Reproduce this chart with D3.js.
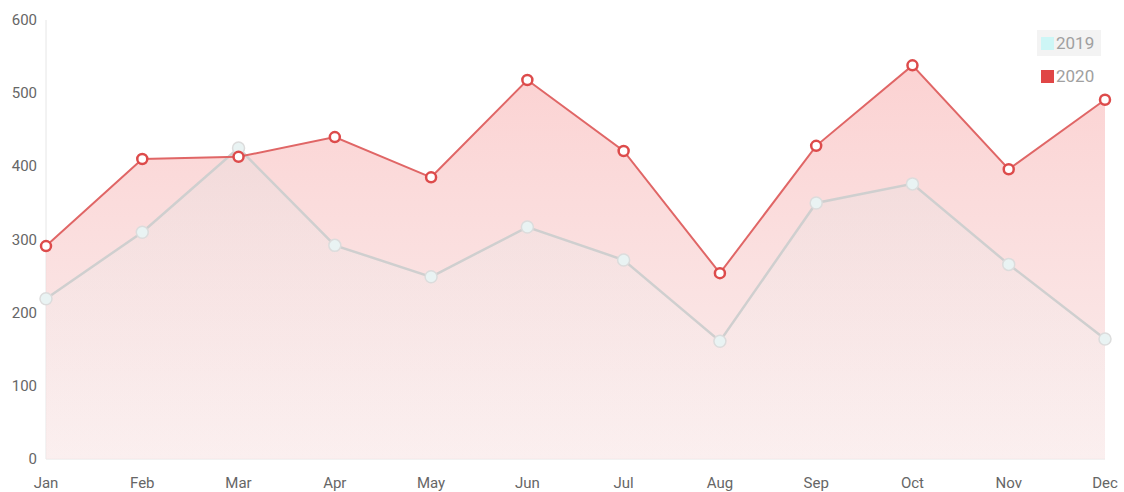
<!DOCTYPE html>
<html>
<head>
<meta charset="utf-8">
<script src="https://cdn.jsdelivr.net/npm/d3@7"></script>
<style>
body { margin:0; background:#fff; }
svg text { font-family: Roboto, "Noto Sans", sans-serif; }
</style>
</head>
<body>
<div id="chart"></div>
<script>
var months = ["Jan","Feb","Mar","Apr","May","Jun","Jul","Aug","Sep","Oct","Nov","Dec"];
var sales2019 = [219, 310, 425, 292, 249, 317, 272, 161, 350, 376, 266, 164];
var sales2020 = [291, 410, 413, 440, 385, 518, 421, 254, 428, 538, 396, 491];
var yTicks = [0, 100, 200, 300, 400, 500, 600];

var w = 1124, h = 492;
var margin = {left: 46, top: 20, right: 19, bottom: 33};

var svg = d3.select("#chart").append("svg").attr("width", w).attr("height", h);

var xScale = d3.scalePoint().domain(months).range([margin.left, w - margin.right]);
var yScale = d3.scaleLinear().domain([0, 600]).range([h - margin.bottom, margin.top]);

var defs = svg.append("defs");
var g20 = defs.append("linearGradient").attr("id", "g2020").attr("x1", 0).attr("y1", 0).attr("x2", 0).attr("y2", 1);
g20.append("stop").attr("offset", "0%").attr("stop-color", "#fbcaca").attr("stop-opacity", 0.85);
g20.append("stop").attr("offset", "100%").attr("stop-color", "#f8e4e4").attr("stop-opacity", 0.7);
var g19 = defs.append("linearGradient").attr("id", "g2019").attr("x1", 0).attr("y1", 0).attr("x2", 0).attr("y2", 1);
g19.append("stop").attr("offset", "0%").attr("stop-color", "#d8e0e0").attr("stop-opacity", 0.25);
g19.append("stop").attr("offset", "100%").attr("stop-color", "#ffffff").attr("stop-opacity", 0.15);

// axes lines
svg.append("line").attr("x1", margin.left).attr("x2", margin.left)
  .attr("y1", yScale(600)).attr("y2", yScale(0)).attr("stroke", "#e6e6e6");
svg.append("line").attr("x1", margin.left).attr("x2", w - margin.right)
  .attr("y1", yScale(0)).attr("y2", yScale(0)).attr("stroke", "#e6e6e6");

svg.selectAll(".ylab").data(yTicks).enter().append("text")
  .attr("x", 37).attr("y", function(d){ return yScale(d) + 5; })
  .attr("text-anchor", "end").attr("font-size", 15).attr("fill", "#666")
  .text(function(d){ return d; });

svg.selectAll(".xlab").data(months).enter().append("text")
  .attr("x", function(d){ return xScale(d); }).attr("y", 488)
  .attr("text-anchor", "middle").attr("font-size", 15).attr("fill", "#666")
  .text(function(d){ return d; });

var area = function(vals){
  return d3.area()
    .x(function(d, i){ return xScale(months[i]); })
    .y0(yScale(0))
    .y1(function(d){ return yScale(d); })(vals);
};
var line = function(vals){
  return d3.line()
    .x(function(d, i){ return xScale(months[i]); })
    .y(function(d){ return yScale(d); })(vals);
};

svg.append("path").attr("d", area(sales2020)).attr("fill", "url(#g2020)");
svg.append("path").attr("d", area(sales2019)).attr("fill", "url(#g2019)");

svg.append("path").attr("d", line(sales2019)).attr("fill", "none")
  .attr("stroke", "#cfcfcf").attr("stroke-width", 2.5);
svg.append("path").attr("d", line(sales2020)).attr("fill", "none")
  .attr("stroke", "#e06666").attr("stroke-width", 2);

svg.selectAll(".p19").data(sales2019).enter().append("circle")
  .attr("cx", function(d, i){ return xScale(months[i]); })
  .attr("cy", function(d){ return yScale(d); })
  .attr("r", 6).attr("fill", "#e9f3f3").attr("stroke", "#dcdcdc").attr("stroke-width", 1.5);

svg.selectAll(".p20").data(sales2020).enter().append("circle")
  .attr("cx", function(d, i){ return xScale(months[i]); })
  .attr("cy", function(d){ return yScale(d); })
  .attr("r", 5).attr("fill", "#fff").attr("stroke", "#dd4b4b").attr("stroke-width", 2.5);

// legend
svg.append("rect").attr("x", 1037).attr("y", 30).attr("width", 64).attr("height", 26).attr("fill", "#f3f3f3");
var legend = [{name: "2019", color: "#cdf6f6", y: 43}, {name: "2020", color: "#e04646", y: 76}];
var lg = svg.selectAll(".leg").data(legend).enter().append("g");
lg.append("rect").attr("x", 1041).attr("y", function(d){ return d.y - 6; })
  .attr("width", 13).attr("height", 13).attr("fill", function(d){ return d.color; });
lg.append("text").attr("x", 1056).attr("y", function(d){ return d.y + 6; })
  .attr("font-size", 17).attr("fill", "#a0a0a0").text(function(d){ return d.name; });
</script>
</body>
</html>
